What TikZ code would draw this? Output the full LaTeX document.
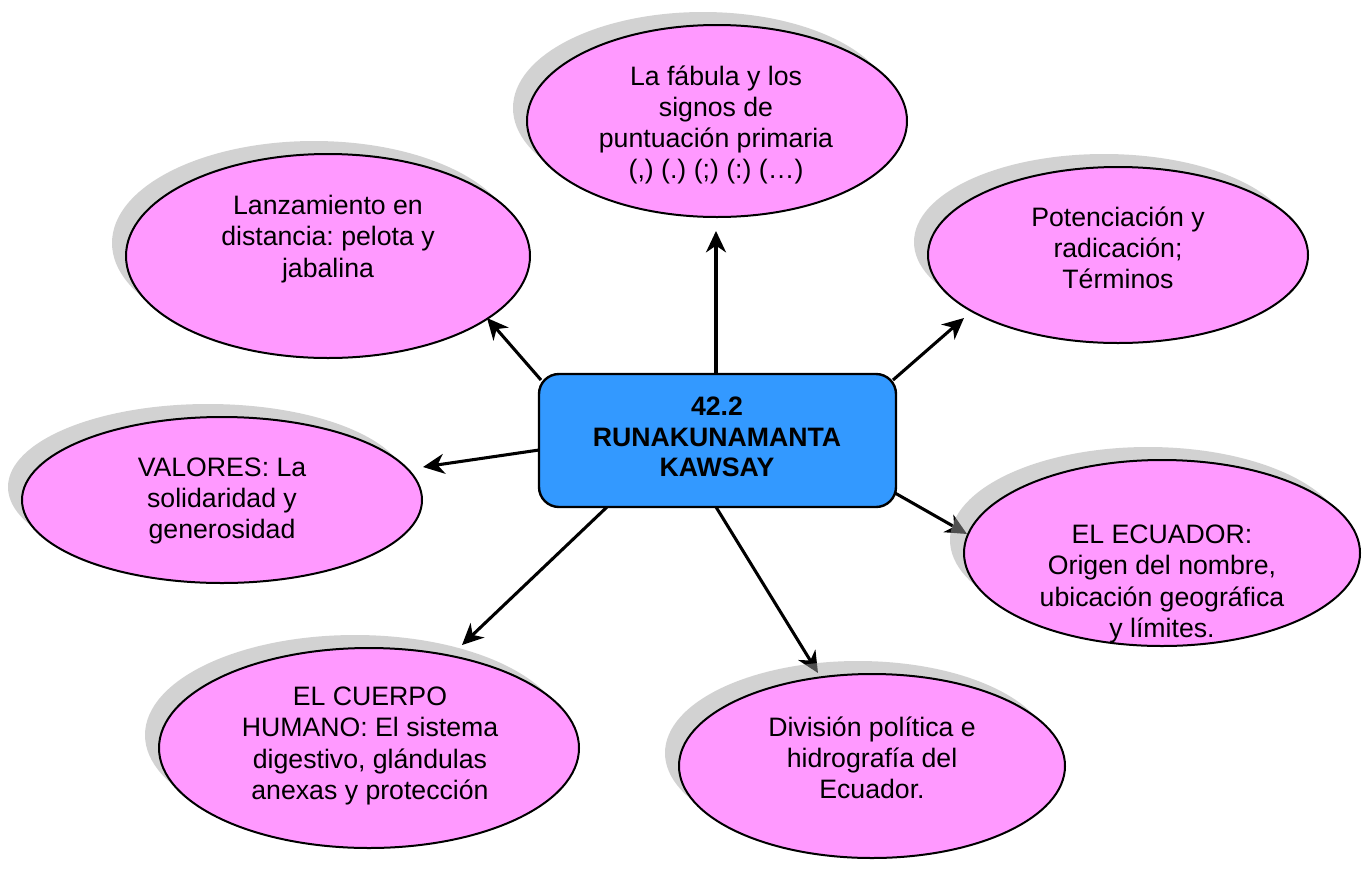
\documentclass[tikz,border=0pt]{standalone}
\usepackage{fontspec}
\setmainfont{Liberation Sans}
\frenchspacing
\usetikzlibrary{arrows.meta,calc,shapes.geometric}
\definecolor{pinkfill}{HTML}{FF99FF}
\definecolor{bluefill}{HTML}{3399FF}
\definecolor{shadowgray}{HTML}{A4A4A4}
\tikzset{
  bubble/.style={ellipse, draw=black, line width=1.5pt, fill=pinkfill, inner sep=0pt},
  bubbleshadow/.style={ellipse, fill=shadowgray, fill opacity=0.49, draw=none, inner sep=0pt},
  label text/.style={align=center, inner sep=0pt, font=\fontsize{20pt}{23.4pt}\selectfont\frenchspacing},
  center box/.style={rectangle, rounded corners=15pt, draw=black, line width=1.8pt, fill=bluefill, inner sep=0pt},
  arrowline/.style={line width=2.3pt, -{Stealth[length=16pt,width=15pt,inset=5pt]}},
}
\newcommand{\bubbleat}[5]{%
  \node[bubbleshadow, minimum width=#3*1.5pt, minimum height=#4*1.5pt] (#5s) at ($(#1,#2)+(-14,-13)$) {};
  \node[bubble, minimum width=#3*1.5pt, minimum height=#4*1.5pt] (#5) at (#1,#2) {};
}
\begin{document}
\begin{tikzpicture}[x=0.75pt,y=-0.75pt]
\useasboundingbox (0,0) rectangle (1371,868);
% arrow start points on the central box border
\coordinate (s1) at (716,374);
\coordinate (s2) at (541,380);
\coordinate (s3) at (893,380);
\coordinate (s4) at (539,450);
\coordinate (s5) at (895,493);
\coordinate (s6) at (716,507);
\coordinate (s7) at (607,507);
% arrow tips
\coordinate (t1) at (716,231);
\coordinate (t2) at (487,318);
\coordinate (t3) at (964,318);
\coordinate (t4) at (423,467);
\coordinate (t5) at (967,534);
\coordinate (t6) at (818,673);
\coordinate (t7) at (462,645);
\foreach \i in {1,...,7}{\draw[arrowline] (s\i) -- (t\i);}
% bubbles
\bubbleat{717}{121}{190}{96}{e1}
\bubbleat{328}{256}{202}{102}{e2}
\bubbleat{1118}{255}{190}{88}{e3}
\bubbleat{222}{500}{200}{83}{e4}
\bubbleat{1162}{553}{198}{93}{e5}
\bubbleat{369}{748}{210}{100}{e6}
\bubbleat{872}{766}{193}{92}{e7}
% central box
\node[center box, minimum width=357*0.75pt, minimum height=133*0.75pt] (box) at (717.5,440.5) {};
% texts
\node[label text] (l1) at (716,125) {La fábula y los\\signos de\\puntuación primaria\\(,) (.) (;) (:) (…)};
\node[label text] (l2) at (328,239) {Lanzamiento en\\distancia: pelota y\\jabalina};
\node[label text] (l3) at (1118,248) {Potenciación y\\radicación;\\Términos};
\node[label text] (l4) at (222,501) {VALORES: La\\solidaridad y\\generosidad};
\node[label text] (l5) at (1162,584) {EL ECUADOR:\\Origen del nombre,\\ubicación geográfica\\y límites.};
\node[label text] (l6) at (370,746) {EL CUERPO\\HUMANO: El sistema\\digestivo, glándulas\\anexas y protección};
\node[label text] (l7) at (872,758) {División política e\\hidrografía del\\Ecuador.};
\node[label text, font=\fontsize{20pt}{23pt}\selectfont\bfseries] (lb) at (717,437) {42.2\\RUNAKUNAMANTA\\KAWSAY};
\end{tikzpicture}
\end{document}
